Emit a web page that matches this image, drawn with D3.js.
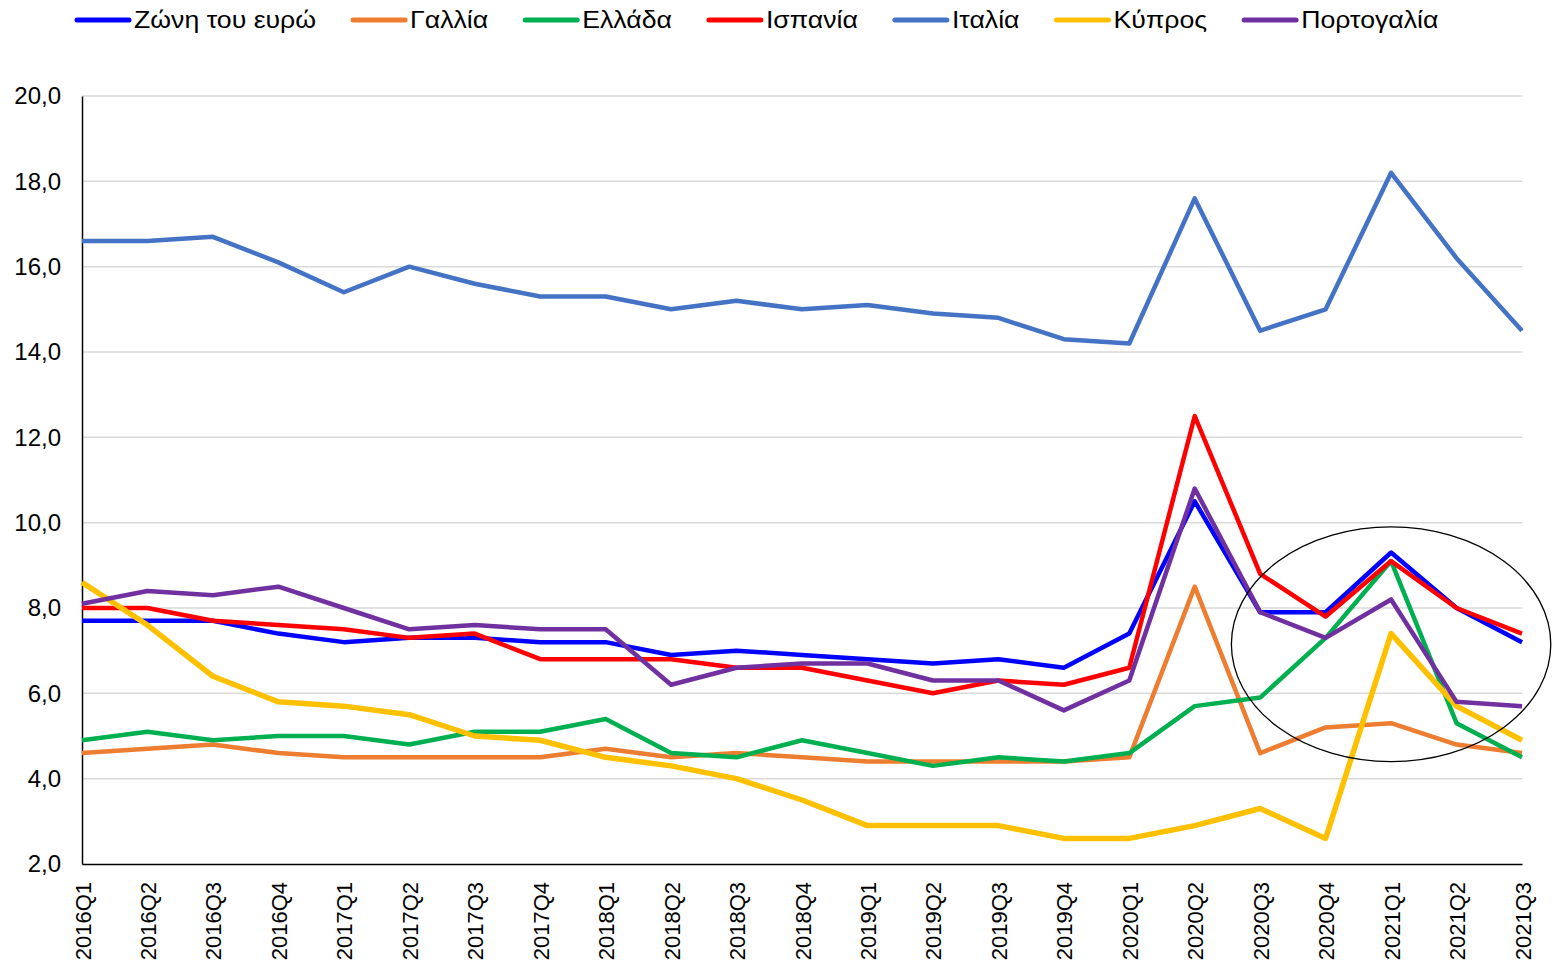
<!DOCTYPE html>
<html>
<head>
<meta charset="utf-8">
<script src="https://cdn.jsdelivr.net/npm/d3@7"></script>
<style>
  body { margin: 0; background: #fff; }
  text { font-family: "Liberation Sans", Arial, sans-serif; }
</style>
</head>
<body>
<svg id="chart" width="1552" height="968"></svg>
<script>
const quarters = ["2016Q1","2016Q2","2016Q3","2016Q4","2017Q1","2017Q2","2017Q3","2017Q4",
  "2018Q1","2018Q2","2018Q3","2018Q4","2019Q1","2019Q2","2019Q3","2019Q4",
  "2020Q1","2020Q2","2020Q3","2020Q4","2021Q1","2021Q2","2021Q3"];

const euroArea = [7.7,7.7,7.7,7.4,7.2,7.3,7.3,7.2,7.2,6.9,7.0,6.9,6.8,6.7,6.8,6.6,7.4,10.5,7.9,7.9,9.3,8.0,7.2];
const france   = [4.6,4.7,4.8,4.6,4.5,4.5,4.5,4.5,4.7,4.5,4.6,4.5,4.4,4.4,4.4,4.4,4.5,8.5,4.6,5.2,5.3,4.8,4.6];
const greece   = [4.9,5.1,4.9,5.0,5.0,4.8,5.1,5.1,5.4,4.6,4.5,4.9,4.6,4.3,4.5,4.4,4.6,5.7,5.9,7.3,9.1,5.3,4.5];
const spain    = [8.0,8.0,7.7,7.6,7.5,7.3,7.4,6.8,6.8,6.8,6.6,6.6,6.3,6.0,6.3,6.2,6.6,12.5,8.8,7.8,9.1,8.0,7.4];
const italy    = [16.6,16.6,16.7,16.1,15.4,16.0,15.6,15.3,15.3,15.0,15.2,15.0,15.1,14.9,14.8,14.3,14.2,17.6,14.5,15.0,18.2,16.2,14.5];
const cyprus   = [8.6,7.6,6.4,5.8,5.7,5.5,5.0,4.9,4.5,4.3,4.0,3.5,2.9,2.9,2.9,2.6,2.6,2.9,3.3,2.6,7.4,5.7,4.9];
const portugal = [8.1,8.4,8.3,8.5,8.0,7.5,7.6,7.5,7.5,6.2,6.6,6.7,6.7,6.3,6.3,5.6,6.3,10.8,7.9,7.3,8.2,5.8,5.7];

const yTicks = [2,4,6,8,10,12,14,16,18,20];

const series = [
  { name: "Ζώνη του ευρώ", values: euroArea, color: "#0000ff", width: 4.5 },
  { name: "Γαλλία",        values: france,   color: "#ed7d31", width: 4.5 },
  { name: "Ελλάδα",        values: greece,   color: "#00b050", width: 4.5 },
  { name: "Ισπανία",       values: spain,    color: "#ff0000", width: 4.5 },
  { name: "Ιταλία",        values: italy,    color: "#4472c4", width: 4.5 },
  { name: "Κύπρος",        values: cyprus,   color: "#ffc000", width: 5.5 },
  { name: "Πορτογαλία",    values: portugal, color: "#7030a0", width: 4.5 }
];

const svg = d3.select("#chart");
const plot = { left: 82, right: 1522, top: 96, bottom: 864 };

const x = d3.scalePoint().domain(quarters).range([plot.left, plot.right]);
const y = d3.scaleLinear().domain([2, 20]).range([plot.bottom, plot.top]);

// grid
svg.append("g")
  .selectAll("line")
  .data(yTicks.slice(1))
  .enter().append("line")
  .attr("x1", plot.left).attr("x2", plot.right)
  .attr("y1", d => y(d)).attr("y2", d => y(d))
  .attr("stroke", "#d9d9d9").attr("stroke-width", 1.5);

// y axis
const yAxis = svg.append("g")
  .attr("transform", `translate(${plot.left},0)`)
  .call(d3.axisLeft(y).tickValues(yTicks).tickSize(0).tickPadding(21)
    .tickFormat(d => d3.format(".1f")(d).replace(".", ",")));
yAxis.select(".domain").attr("stroke", "#000").attr("stroke-width", 1.5);
yAxis.selectAll("text").attr("font-size", 24).attr("fill", "#000")
  .style("font-family", "'Liberation Sans', Arial, sans-serif");

// x axis
const xAxis = svg.append("g")
  .attr("transform", `translate(0,${plot.bottom})`)
  .call(d3.axisBottom(x).tickSize(0).tickPadding(0));
xAxis.select(".domain").attr("stroke", "#000").attr("stroke-width", 1.5);
xAxis.selectAll("text")
  .attr("font-size", 22).attr("fill", "#000")
  .style("font-family", "'Liberation Sans', Arial, sans-serif")
  .attr("text-anchor", "end")
  .attr("dy", null)
  .attr("y", 0)
  .attr("transform", "translate(8,18) rotate(-90)");

// lines
const line = d3.line()
  .x((d, i) => x(quarters[i]))
  .y(d => y(d));

svg.append("g")
  .selectAll("path")
  .data(series)
  .enter().append("path")
  .attr("d", d => line(d.values))
  .attr("fill", "none")
  .attr("stroke", d => d.color)
  .attr("stroke-width", d => d.width)
  .attr("stroke-linejoin", "round");

// highlight ellipse around 2020Q3-2021Q3
const step = x.step();
svg.append("ellipse")
  .attr("cx", x("2021Q1"))
  .attr("cy", y(7.15))
  .attr("rx", step * 2.44)
  .attr("ry", y(4.4) - y(7.15))
  .attr("fill", "none")
  .attr("stroke", "#000")
  .attr("stroke-width", 1.3);

// legend (text is drawn a bit wider, like the original)
const legend = svg.append("g").attr("transform", "translate(0,20)");
const stretch = 1.16;
let lx = 77;
series.forEach(s => {
  const g = legend.append("g").attr("transform", `translate(${lx},0)`);
  g.append("line")
    .attr("x1", 0).attr("x2", 52)
    .attr("stroke", s.color).attr("stroke-width", 5)
    .attr("stroke-linecap", "round");
  const t = g.append("text")
    .attr("transform", `translate(57,0) scale(${stretch},1)`)
    .attr("dy", "0.35em")
    .attr("font-size", 23).attr("fill", "#000")
    .text(s.name);
  lx += 57 + t.node().getComputedTextLength() * stretch + 37;
});
</script>
</body>
</html>
